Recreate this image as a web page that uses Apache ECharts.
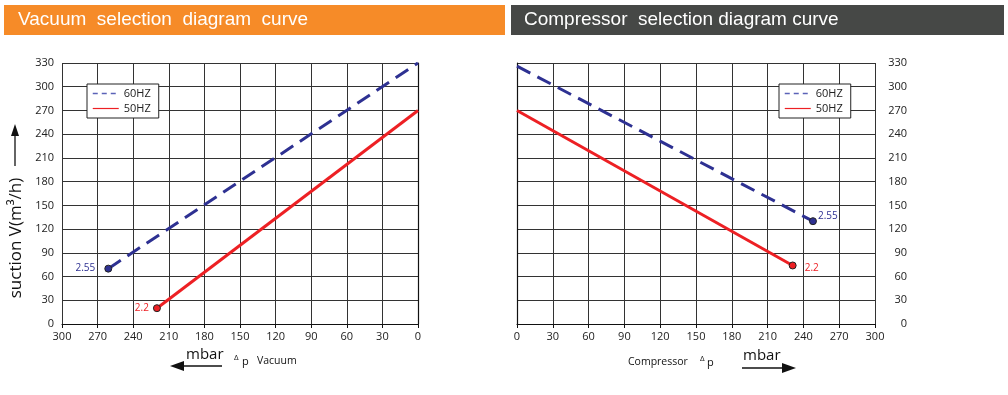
<!DOCTYPE html>
<html><head><meta charset="utf-8">
<script src="https://cdn.jsdelivr.net/npm/echarts@6/dist/echarts.min.js"></script>
<style>html,body{margin:0;padding:0;background:#fff}#c{width:1008px;height:395px}</style>
</head><body><div id="c"></div>
<script>
// ---- data ----
const xTicksMin = 0, xTicksMax = 300, xStep = 30;
const yTicksMin = 0, yTicksMax = 330, yStep = 30;
const seriesNames = ['60HZ', '50HZ'];
const vacuum60 = [[261, 70], [0, 330]];
const vacuum50 = [[220, 20], [0, 270]];
const comp60 = [[0, 326], [248, 130]];
const comp50 = [[0, 270], [231, 74]];
const vacuumEndLabels = ['2.55', '2.2'];
const compEndLabels = ['2.55', '2.2'];
const titles = ['Vacuum  selection  diagram  curve', 'Compressor  selection diagram curve'];

const NAVY = '#2e3192', RED = '#ed2024';
const font = "'Open Sans', 'Noto Sans', sans-serif";
const chart = echarts.init(document.getElementById('c'));

function xAxis(gi, inverse) {
  return {
    gridIndex: gi, type: 'value', min: xTicksMin, max: xTicksMax, interval: xStep, inverse: inverse,
    axisLine: {show: true, lineStyle: {color: '#111', width: 1.2}},
    axisTick: {show: true, length: 4, lineStyle: {color: '#111'}},
    axisLabel: {color: '#222', fontSize: 11, fontFamily: font, margin: 7},
    splitLine: {show: true, lineStyle: {color: '#333', width: 1}}
  };
}
function yAxis(gi, pos) {
  return {
    gridIndex: gi, type: 'value', min: yTicksMin, max: yTicksMax, interval: yStep, position: pos,
    axisLine: {show: true, lineStyle: {color: '#111', width: 1.2}},
    axisTick: {show: false},
    axisLabel: {color: '#222', fontSize: 11, fontFamily: font, margin: pos === 'left' ? 8 : 32, align: 'right'},
    splitLine: {show: true, lineStyle: {color: '#333', width: 1}}
  };
}
function lineSeries(name, gi, data, color, dashed) {
  return {
    name: name, type: 'line', xAxisIndex: gi, yAxisIndex: gi, symbol: 'none', showSymbol: false, silent: true,
    lineStyle: {color: color, width: 3, type: dashed ? [15, 8] : 'solid'},
    itemStyle: {color: color},
    data: data, z: 5, animation: false
  };
}
function endPoint(gi, pt, label, color, pos, off) {
  return {
    type: 'scatter', xAxisIndex: gi, yAxisIndex: gi, silent: true, z: 6,
    symbol: 'circle', symbolSize: 7,
    itemStyle: {color: color, borderColor: '#222', borderWidth: 1, opacity: 1},
    label: {show: true, formatter: label, position: pos, offset: off, color: color, fontSize: 10, fontFamily: font},
    data: [pt]
  };
}

const legendCommon = {
  orient: 'vertical', itemWidth: 26, itemHeight: 8, itemGap: 4, padding: [4, 8, 4, 5],
  borderColor: '#222', borderWidth: 1, backgroundColor: '#fff',
  lineStyle: {width: 1.5},
  itemStyle: {opacity: 0},
  textStyle: {fontSize: 11, color: '#222', fontFamily: font},
  data: [
    {name: seriesNames[0], lineStyle: {type: [5, 4], color: '#5b63b8', width: 1.5}},
    {name: seriesNames[1], lineStyle: {color: RED, width: 1.2}}
  ],
  selectedMode: false
};

chart.setOption({
  animation: false,
  grid: [
    {left: 62, top: 63, width: 356, height: 261, show: false},
    {left: 517, top: 63, width: 358, height: 261, show: false}
  ],
  xAxis: [xAxis(0, true), xAxis(1, false)],
  yAxis: [yAxis(0, 'left'), yAxis(1, 'right')],
  legend: [
    Object.assign({}, legendCommon, {left: 87, top: 84}),
    Object.assign({}, legendCommon, {left: 779, top: 84})
  ],
  series: [
    lineSeries(seriesNames[0], 0, vacuum60, NAVY, true),
    lineSeries(seriesNames[1], 0, vacuum50, RED, false),
    lineSeries(seriesNames[0], 1, comp60, NAVY, true),
    lineSeries(seriesNames[1], 1, comp50, RED, false),
    endPoint(0, vacuum60[0], vacuumEndLabels[0], NAVY, 'left', [-4, 0]),
    endPoint(0, vacuum50[0], vacuumEndLabels[1], RED, 'left', [1, 0]),
    endPoint(1, comp60[1], compEndLabels[0], NAVY, 'right', [-4, -5]),
    endPoint(1, comp50[1], compEndLabels[1], RED, 'right', [3, 3])
  ],
  graphic: [
    {type: 'rect', shape: {x: 4, y: 5, width: 501, height: 30}, style: {fill: '#f68b28'}},
    {type: 'rect', shape: {x: 511, y: 5, width: 493, height: 30}, style: {fill: '#464846'}},
    {type: 'text', x: 18, y: 20, style: {text: titles[0], fill: '#fff', font: "19px 'Liberation Sans Narrow', 'Liberation Sans', sans-serif", verticalAlign: 'middle'}},
    {type: 'text', x: 524, y: 20, style: {text: titles[1], fill: '#fff', font: "19px 'Liberation Sans Narrow', 'Liberation Sans', sans-serif", verticalAlign: 'middle'}},
    // y axis name + arrow
    {type: 'text', x: 16, y: 238, rotation: Math.PI / 2, style: {text: 'suction V(m³/h)', fill: '#111', font: "17px " + font, align: 'center', verticalAlign: 'middle'}},
    {type: 'line', shape: {x1: 15, y1: 166, x2: 15, y2: 134}, style: {stroke: '#111', lineWidth: 1.3}},
    {type: 'polygon', shape: {points: [[15, 124], [11, 136], [19, 136]]}, style: {fill: '#111'}},
    // left bottom
    {type: 'text', x: 186, y: 355, style: {text: 'mbar', fill: '#111', font: "15px " + font, verticalAlign: 'middle'}},
    {type: 'line', shape: {x1: 182, y1: 366, x2: 222, y2: 366}, style: {stroke: '#111', lineWidth: 1.5}},
    {type: 'polygon', shape: {points: [[170, 366], [184, 361], [184, 371]]}, style: {fill: '#111'}},
    {type: 'text', x: 234, y: 358, style: {text: 'Δ', fill: '#111', font: "8px " + font, verticalAlign: 'middle'}},
    {type: 'text', x: 242, y: 362, style: {text: 'p', fill: '#111', font: "11px " + font, verticalAlign: 'middle'}},
    {type: 'text', x: 257, y: 361, style: {text: 'Vacuum', fill: '#111', font: "10.5px " + font, verticalAlign: 'middle'}},
    // right bottom
    {type: 'text', x: 628, y: 362, style: {text: 'Compressor', fill: '#111', font: "10.5px " + font, verticalAlign: 'middle'}},
    {type: 'text', x: 700, y: 359, style: {text: 'Δ', fill: '#111', font: "8px " + font, verticalAlign: 'middle'}},
    {type: 'text', x: 707, y: 363, style: {text: 'p', fill: '#111', font: "11px " + font, verticalAlign: 'middle'}},
    {type: 'text', x: 743, y: 356, style: {text: 'mbar', fill: '#111', font: "15px " + font, verticalAlign: 'middle'}},
    {type: 'line', shape: {x1: 742, y1: 368, x2: 784, y2: 368}, style: {stroke: '#111', lineWidth: 1.5}},
    {type: 'polygon', shape: {points: [[796, 368], [782, 363], [782, 373]]}, style: {fill: '#111'}}
  ]
});
</script></body></html>
